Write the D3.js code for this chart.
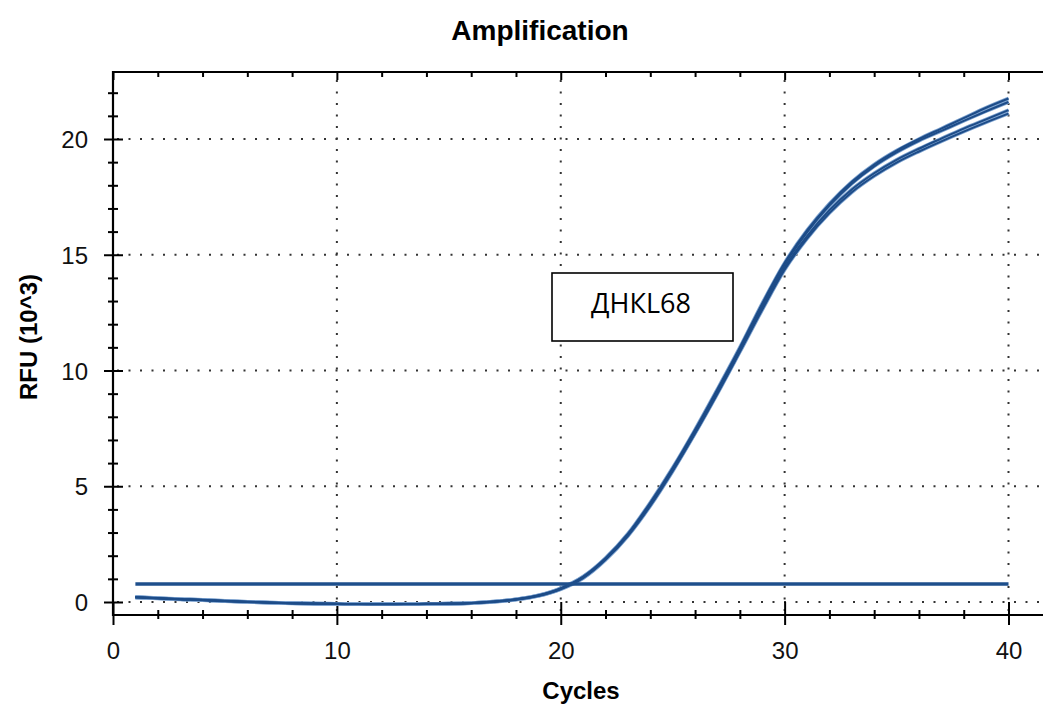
<!DOCTYPE html>
<html>
<head>
<meta charset="utf-8">
<script src="https://cdn.jsdelivr.net/npm/d3@7"></script>
<style>
  body { margin: 0; background: #fff; }
  svg { display: block; }
</style>
</head>
<body>
<svg width="1043" height="708"></svg>
<script>
// cycles 1..40
let cycles = d3.range(1, 41);

// RFU (10^3) of the four wells
let wellA = [0.22, 0.17, 0.13, 0.10, 0.05, 0.01, -0.02, -0.05, -0.07, -0.08, -0.09, -0.09, -0.09, -0.08, -0.07, -0.04, 0.02, 0.12, 0.29, 0.60,
             1.10, 1.90, 2.95, 4.30, 5.80, 7.45, 9.20, 11.00, 12.90, 14.65, 16.05, 17.20, 18.15, 18.90, 19.50, 20.00, 20.45, 20.90, 21.35, 21.75];
let wellB = [0.20, 0.16, 0.12, 0.09, 0.04, 0.00, -0.03, -0.05, -0.07, -0.08, -0.09, -0.10, -0.09, -0.08, -0.07, -0.05, 0.01, 0.11, 0.27, 0.57,
             1.06, 1.85, 2.90, 4.22, 5.72, 7.37, 9.12, 10.93, 12.82, 14.57, 15.97, 17.12, 18.07, 18.82, 19.42, 19.92, 20.35, 20.78, 21.20, 21.60];
let wellC = [0.21, 0.16, 0.12, 0.09, 0.04, 0.01, -0.02, -0.05, -0.07, -0.08, -0.09, -0.09, -0.09, -0.08, -0.07, -0.04, 0.02, 0.12, 0.28, 0.58,
             1.08, 1.87, 2.90, 4.20, 5.70, 7.32, 9.05, 10.85, 12.70, 14.45, 15.80, 16.92, 17.82, 18.52, 19.10, 19.58, 20.02, 20.45, 20.85, 21.25];
let wellD = [0.19, 0.15, 0.11, 0.08, 0.03, 0.00, -0.03, -0.06, -0.08, -0.09, -0.10, -0.10, -0.10, -0.09, -0.08, -0.05, 0.00, 0.10, 0.26, 0.55,
             1.03, 1.82, 2.85, 4.15, 5.65, 7.28, 9.00, 10.80, 12.62, 14.35, 15.70, 16.80, 17.70, 18.40, 18.98, 19.46, 19.90, 20.32, 20.72, 21.10];
let threshold = 0.78;

let xMajor = [0, 10, 20, 30, 40];
let xMinor = [2, 4, 6, 8, 12, 14, 16, 18, 22, 24, 26, 28, 32, 34, 36, 38, 42];
let yMajor = [0, 5, 10, 15, 20];
let yMinor = [1, 2, 3, 4, 6, 7, 8, 9, 11, 12, 13, 14, 16, 17, 18, 19, 21, 22];

let svg = d3.select("svg");
let plotLeft = 113, plotTop = 72, plotBottom = 615, plotRight = 1043;

let x = d3.scaleLinear().domain([0, 40]).range([113, 1008.5]);
let y = d3.scaleLinear().domain([0, 20]).range([602, 139]);

// title
svg.append("text")
    .attr("x", 540).attr("y", 40)
    .attr("text-anchor", "middle")
    .style("font", "bold 28px 'Liberation Sans', Arial, sans-serif")
    .text("Amplification");

// dotted grid
let grid = svg.append("g").attr("stroke", "#333").attr("stroke-width", 2)
    .attr("stroke-dasharray", "2,9.5");
grid.selectAll(".gy").data(yMajor).enter().append("line")
    .attr("x1", plotLeft + 4).attr("x2", plotRight)
    .attr("y1", d => y(d)).attr("y2", d => y(d));
grid.selectAll(".gx").data(xMajor.slice(1)).enter().append("line")
    .attr("y1", plotTop + 8).attr("y2", plotBottom)
    .attr("x1", d => x(d)).attr("x2", d => x(d));

// bottom axis
let gb = svg.append("g").attr("transform", `translate(0,${plotBottom})`)
    .call(d3.axisBottom(x).tickValues(xMajor).tickFormat(d3.format("d")));
gb.select(".domain").remove();
gb.selectAll("line").attr("y1", -13).attr("y2", 10).attr("stroke", "#000").attr("stroke-width", 2);
gb.selectAll("text").attr("y", 27).attr("dy", "0.71em")
    .style("font", "24px 'Liberation Sans', Arial, sans-serif").attr("fill", "#111");
let gbm = svg.append("g").attr("transform", `translate(0,${plotBottom})`)
    .call(d3.axisBottom(x).tickValues(xMinor).tickFormat(""));
gbm.select(".domain").remove();
gbm.selectAll("line").attr("y1", -5).attr("y2", 4).attr("stroke", "#000").attr("stroke-width", 2);

// top axis (ticks only)
let gt = svg.append("g").attr("transform", `translate(0,${plotTop})`)
    .call(d3.axisTop(x).tickValues(xMajor).tickFormat(""));
gt.select(".domain").remove();
gt.selectAll("line").attr("y1", 0).attr("y2", 8).attr("stroke", "#000").attr("stroke-width", 2);
let gtm = svg.append("g").attr("transform", `translate(0,${plotTop})`)
    .call(d3.axisTop(x).tickValues(xMinor).tickFormat(""));
gtm.select(".domain").remove();
gtm.selectAll("line").attr("y1", 0).attr("y2", 5).attr("stroke", "#000").attr("stroke-width", 2);

// left axis
let gl = svg.append("g").attr("transform", `translate(${plotLeft},0)`)
    .call(d3.axisLeft(y).tickValues(yMajor));
gl.select(".domain").remove();
gl.selectAll("line").attr("x1", 10).attr("x2", -9).attr("stroke", "#000").attr("stroke-width", 2);
gl.selectAll("text").attr("x", -25).attr("dy", "0.36em")
    .style("font", "24px 'Liberation Sans', Arial, sans-serif").attr("fill", "#111");
let glm = svg.append("g").attr("transform", `translate(${plotLeft},0)`)
    .call(d3.axisLeft(y).tickValues(yMinor).tickFormat(""));
glm.select(".domain").remove();
glm.selectAll("line").attr("x1", 5).attr("x2", -5).attr("stroke", "#000").attr("stroke-width", 2);

// frame lines
svg.append("path")
    .attr("d", `M${plotRight},${plotTop}H${plotLeft}V${plotBottom}H${plotRight}`)
    .attr("fill", "none").attr("stroke", "#000").attr("stroke-width", 2.2);

// axis titles
svg.append("text")
    .attr("x", 581).attr("y", 699)
    .attr("text-anchor", "middle")
    .style("font", "bold 24px 'Liberation Sans', Arial, sans-serif")
    .text("Cycles");
svg.append("text")
    .attr("transform", "translate(37,337) rotate(-90)")
    .attr("text-anchor", "middle")
    .style("font", "bold 24px 'Liberation Sans', Arial, sans-serif")
    .text("RFU (10^3)");

// amplification curves
let line = d3.line()
    .x((d, i) => x(cycles[i]))
    .y(d => y(d))
    .curve(d3.curveMonotoneX);

let wells = [wellA, wellB, wellC, wellD];
let curves = svg.append("g").attr("fill", "none");
curves.selectAll(".halo").data(wells).enter().append("path")
    .attr("d", line)
    .attr("stroke", "#7ea3d0").attr("stroke-width", 3.6);
curves.selectAll(".core").data(wells).enter().append("path")
    .attr("d", line)
    .attr("stroke", "#1d4c88").attr("stroke-width", 2);

// threshold line
svg.append("line")
    .attr("x1", x(1)).attr("x2", x(40))
    .attr("y1", y(threshold)).attr("y2", y(threshold))
    .attr("stroke", "#1e4f8c").attr("stroke-width", 3.5);

// sample label box
let box = svg.append("g");
box.append("rect")
    .attr("x", 552).attr("y", 273).attr("width", 181).attr("height", 68)
    .attr("fill", "#fff").attr("stroke", "#000").attr("stroke-width", 1.6);
box.append("text")
    .attr("x", 641).attr("y", 313)
    .attr("text-anchor", "middle")
    .style("font", "27px 'Open Sans', 'Noto Sans', sans-serif")
    .text("ДНКL68");
</script>
</body>
</html>
